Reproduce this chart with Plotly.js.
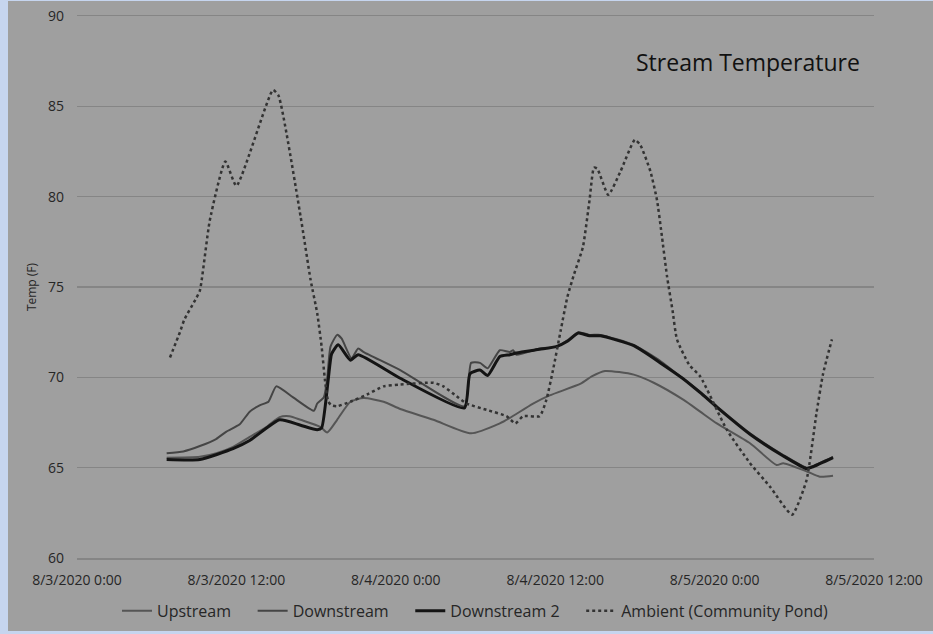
<!DOCTYPE html>
<html>
<head>
<meta charset="utf-8">
<script src="https://cdn.plot.ly/plotly-3.0.1.min.js"></script>
<style>
  html, body { margin: 0; padding: 0; background: #c6d5ef; width: 933px; height: 634px; overflow: hidden; }
  #chart { position: absolute; left: 8px; top: 1px; width: 925px; height: 630px; }
</style>
</head>
<body>
<div id="chart"></div>
<script>
// ---- Data ----
const upstreamTime = [
  "2020-08-03 06:45","2020-08-03 09:15","2020-08-03 10:30","2020-08-03 11:45","2020-08-03 13:00",
  "2020-08-03 14:15","2020-08-03 15:15","2020-08-03 16:00","2020-08-03 16:50","2020-08-03 18:20",
  "2020-08-03 18:50","2020-08-03 19:35","2020-08-03 20:35","2020-08-03 21:35","2020-08-03 23:05",
  "2020-08-04 00:20","2020-08-04 02:50","2020-08-04 05:40","2020-08-04 07:50","2020-08-04 08:35",
  "2020-08-04 10:20","2020-08-04 11:35","2020-08-04 13:55","2020-08-04 14:45","2020-08-04 15:45",
  "2020-08-04 17:55","2020-08-04 19:25","2020-08-04 21:40","2020-08-04 22:55","2020-08-05 00:10",
  "2020-08-05 02:40","2020-08-05 04:40","2020-08-05 05:10","2020-08-05 06:55","2020-08-05 07:55",
  "2020-08-05 08:55"
];
const upstreamTemp = [
  65.55, 65.6, 65.8, 66.15, 66.7,
  67.25, 67.8, 67.85, 67.65, 67.25,
  66.95, 67.65, 68.65, 68.85, 68.65,
  68.25, 67.65, 66.9, 67.45, 67.75,
  68.55, 69.0, 69.65, 70.05, 70.35,
  70.15, 69.7, 68.75, 68.1, 67.45,
  66.35, 65.15, 65.25, 64.8, 64.5,
  64.55
];

const downstreamTime = [
  "2020-08-03 06:45","2020-08-03 08:00","2020-08-03 09:15","2020-08-03 10:30","2020-08-03 11:15",
  "2020-08-03 12:15","2020-08-03 13:00","2020-08-03 13:45","2020-08-03 14:25","2020-08-03 15:00",
  "2020-08-03 16:15","2020-08-03 17:50","2020-08-03 18:05","2020-08-03 18:35","2020-08-03 18:50",
  "2020-08-03 19:05","2020-08-03 19:35","2020-08-03 19:55","2020-08-03 20:40","2020-08-03 21:10",
  "2020-08-03 21:35","2020-08-04 00:20","2020-08-04 05:10","2020-08-04 05:40","2020-08-04 06:20",
  "2020-08-04 06:55","2020-08-04 07:50","2020-08-04 08:35","2020-08-04 08:50","2020-08-04 09:05",
  "2020-08-04 10:50","2020-08-04 12:05","2020-08-04 12:55","2020-08-04 13:45","2020-08-04 14:35",
  "2020-08-04 15:25","2020-08-04 17:55","2020-08-04 19:55","2020-08-04 21:35","2020-08-04 22:55",
  "2020-08-05 00:10","2020-08-05 02:40","2020-08-05 05:10","2020-08-05 06:55","2020-08-05 07:25",
  "2020-08-05 08:55"
];
const downstreamTemp = [
  65.8, 65.9, 66.2, 66.6, 67.0,
  67.4, 68.1, 68.45, 68.65, 69.5,
  68.9, 68.15, 68.55, 68.9, 69.9,
  71.7, 72.35, 72.15, 71.05, 71.6,
  71.4, 70.4, 68.4, 70.8, 70.8,
  70.5, 71.5, 71.4, 71.5, 71.25,
  71.6, 71.7, 72.05, 72.5, 72.35,
  72.35, 71.8, 70.9, 69.95, 69.2,
  68.4, 66.9, 65.7, 65.0, 65.1,
  65.6
];

const downstream2Time = [
  "2020-08-03 06:45","2020-08-03 09:15","2020-08-03 11:45","2020-08-03 13:00","2020-08-03 15:15",
  "2020-08-03 16:50","2020-08-03 18:05","2020-08-03 18:25","2020-08-03 18:55","2020-08-03 19:10",
  "2020-08-03 19:40","2020-08-03 20:35","2020-08-03 21:10","2020-08-04 00:20","2020-08-04 05:10",
  "2020-08-04 05:35","2020-08-04 06:20","2020-08-04 06:55","2020-08-04 07:50","2020-08-04 08:35",
  "2020-08-04 09:05","2020-08-04 10:50","2020-08-04 12:05","2020-08-04 12:55","2020-08-04 13:45",
  "2020-08-04 14:35","2020-08-04 15:25","2020-08-04 17:55","2020-08-04 19:55","2020-08-04 21:35",
  "2020-08-04 22:55","2020-08-05 00:10","2020-08-05 02:40","2020-08-05 05:10","2020-08-05 06:55",
  "2020-08-05 07:25","2020-08-05 08:55"
];
const downstream2Temp = [
  65.45, 65.45, 66.05, 66.5, 67.65,
  67.35, 67.1, 67.2, 69.9, 71.3,
  71.8, 70.95, 71.25, 69.95, 68.3,
  70.2, 70.4, 70.1, 71.15, 71.25,
  71.35, 71.55, 71.7, 72.0, 72.45,
  72.3, 72.3, 71.75, 70.8, 69.95,
  69.15, 68.35, 66.85, 65.65, 64.95,
  65.05, 65.55
];

const ambientTime = [
  "2020-08-03 07:00","2020-08-03 07:45","2020-08-03 08:05","2020-08-03 08:55","2020-08-03 09:15",
  "2020-08-03 10:00","2020-08-03 11:10","2020-08-03 12:00","2020-08-03 14:45","2020-08-03 15:10",
  "2020-08-03 16:50","2020-08-03 17:35","2020-08-03 18:05","2020-08-03 18:25","2020-08-03 18:40",
  "2020-08-03 18:55","2020-08-03 19:10","2020-08-03 19:35","2020-08-03 20:35","2020-08-03 21:50",
  "2020-08-03 23:05","2020-08-04 00:20","2020-08-04 02:50","2020-08-04 03:35","2020-08-04 04:35",
  "2020-08-04 05:20","2020-08-04 06:50","2020-08-04 08:20","2020-08-04 09:00","2020-08-04 09:35",
  "2020-08-04 10:50","2020-08-04 11:20","2020-08-04 11:50","2020-08-04 12:25","2020-08-04 12:55",
  "2020-08-04 13:25","2020-08-04 14:05","2020-08-04 14:35","2020-08-04 14:55","2020-08-04 15:10",
  "2020-08-04 16:00","2020-08-04 16:55","2020-08-04 18:00","2020-08-04 18:25","2020-08-04 19:10",
  "2020-08-04 19:40","2020-08-04 20:00","2020-08-04 20:25","2020-08-04 20:50","2020-08-04 21:10",
  "2020-08-04 22:05","2020-08-04 22:55","2020-08-05 00:55","2020-08-05 02:40","2020-08-05 04:10",
  "2020-08-05 05:50","2020-08-05 06:55","2020-08-05 07:40","2020-08-05 08:10","2020-08-05 08:50"
];
const ambientTemp = [
  71.1, 72.5, 73.2, 74.3, 74.8,
  78.7, 81.95, 80.6, 85.9, 85.6,
  78.9, 75.4, 73.55, 71.7, 69.85,
  68.65, 68.45, 68.4, 68.65, 69.05,
  69.5, 69.6, 69.7, 69.5, 68.95,
  68.55, 68.2, 67.85, 67.45, 67.85,
  67.85, 68.75, 70.4, 72.6, 74.45,
  75.7, 77.2, 79.8, 81.6, 81.55,
  80.1, 81.4, 83.15, 82.85, 81.4,
  79.8, 78.0, 75.6, 73.7, 72.1,
  70.7, 70.05, 67.1, 65.25, 63.95,
  62.4, 64.3, 68.0, 70.2, 72.1
];

const seriesNames = ["Upstream", "Downstream", "Downstream 2", "Ambient (Community Pond)"];
const chartTitle = "Stream Temperature";
const yTitle = "Temp (F)";
const xRange = ["2020-08-03 00:00", "2020-08-05 12:00"];
const yRange = [60, 90];

// ---- Traces ----
const font = "'Open Sans', 'Noto Sans', sans-serif";
const gridColor = "#858585";
const pad = "\u00a0\u00a0\u00a0\u00a0";
const traces = [
  { x: upstreamTime, y: upstreamTemp, name: seriesNames[0] + pad, mode: "lines",
    line: { color: "#555555", width: 2, shape: "spline", smoothing: 0.6 } },
  { x: downstreamTime, y: downstreamTemp, name: seriesNames[1] + pad, mode: "lines",
    line: { color: "#454545", width: 2, shape: "spline", smoothing: 0.5 } },
  { x: downstream2Time, y: downstream2Temp, name: seriesNames[2] + pad, mode: "lines",
    line: { color: "#141414", width: 3, shape: "spline", smoothing: 0.5 } },
  { x: ambientTime, y: ambientTemp, name: seriesNames[3], mode: "lines",
    line: { color: "#333333", width: 2.5, dash: "dot", shape: "spline", smoothing: 0.5 } }
];

const layout = {
  width: 925, height: 630,
  paper_bgcolor: "#9f9f9f",
  plot_bgcolor: "#9f9f9f",
  margin: { l: 69, r: 59, t: 15, b: 73 },
  font: { family: font, color: "#262626", size: 14 },
  showlegend: true,
  legend: {
    orientation: "h", xref: "paper", x: 0.5, xanchor: "center",
    yref: "container", y: 0.032, yanchor: "middle",
    font: { family: font, size: 16, color: "#262626" },
    bgcolor: "rgba(0,0,0,0)", itemwidth: 30, tracegroupgap: 0
  },
  xaxis: {
    type: "date", range: xRange, dtick: 43200000, tick0: "2020-08-03 00:00",
    tickformat: "%-m/%-d/%Y %-H:%M", showgrid: false, zeroline: false,
    showline: true, mirror: true, linecolor: gridColor, linewidth: 1.5,
    ticks: "", ticklabelstandoff: 9, automargin: false,
    tickfont: { family: font, size: 14, color: "#262626" }, fixedrange: true
  },
  yaxis: {
    range: yRange, dtick: 5, tick0: 60, showgrid: true, gridcolor: gridColor, gridwidth: 1.5,
    zeroline: false, showline: false, ticks: "", ticklabelstandoff: 12, automargin: false,
    tickfont: { family: font, size: 14, color: "#262626" },
    title: { text: yTitle, font: { family: font, size: 12, color: "#262626" }, standoff: 8 },
    fixedrange: true
  },
  annotations: [{
    text: chartTitle, xref: "paper", yref: "paper", x: 0.985, y: 0.915,
    xanchor: "right", yanchor: "middle", showarrow: false,
    font: { family: font, size: 23, color: "#111111" }
  }]
};

Plotly.newPlot("chart", traces, layout, { displayModeBar: false, staticPlot: true });
</script>
</body>
</html>
